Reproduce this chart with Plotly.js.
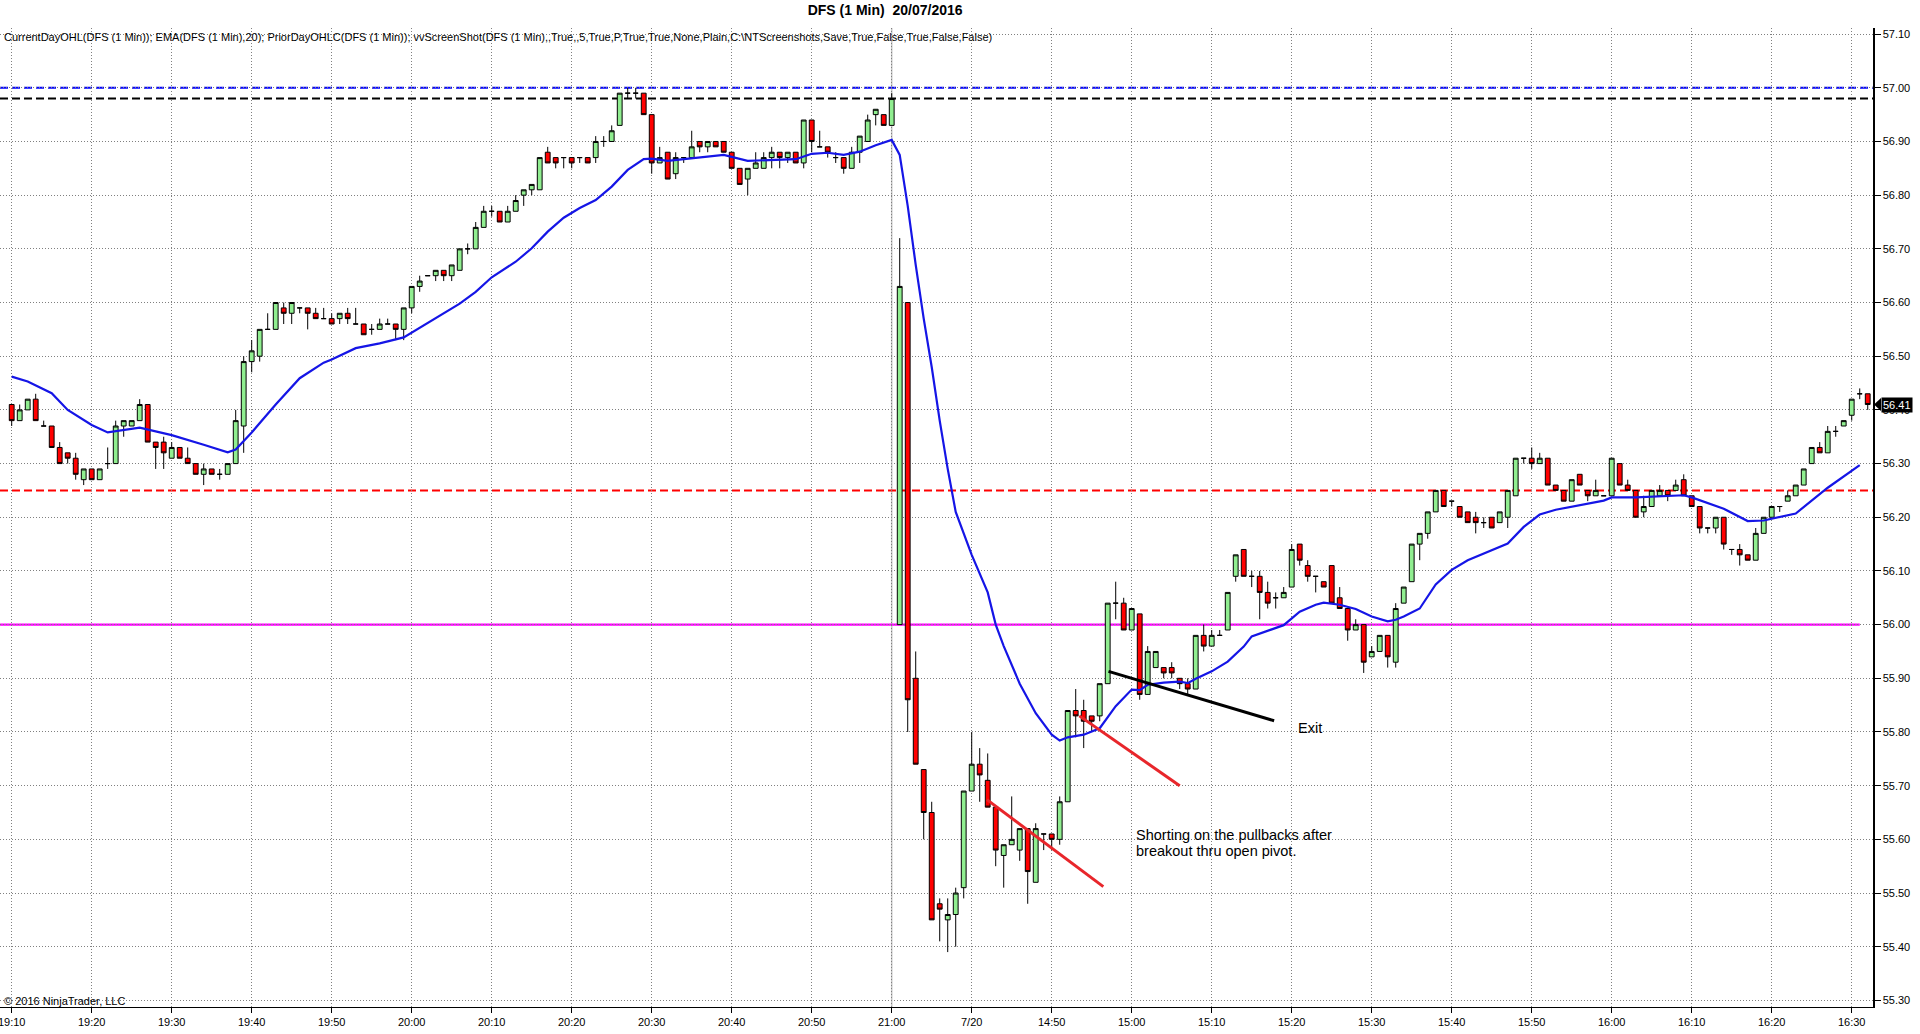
<!DOCTYPE html>
<html><head><meta charset="utf-8">
<script src="https://cdn.plot.ly/plotly-3.0.1.min.js"></script>
<style>html,body{margin:0;padding:0;background:#fff;overflow:hidden}#chart{width:1920px;height:1034px}</style>
</head><body><div id="chart"></div>
<script>
// ---- bar times (two sessions: 19/07 19:10-21:00, 20/07 14:31-16:32) ----
const times = [
"19:10","19:11","19:12","19:13","19:14","19:15","19:16","19:17","19:18","19:19",
"19:20","19:21","19:22","19:23","19:24","19:25","19:26","19:27","19:28","19:29",
"19:30","19:31","19:32","19:33","19:34","19:35","19:36","19:37","19:38","19:39",
"19:40","19:41","19:42","19:43","19:44","19:45","19:46","19:47","19:48","19:49",
"19:50","19:51","19:52","19:53","19:54","19:55","19:56","19:57","19:58","19:59",
"20:00","20:01","20:02","20:03","20:04","20:05","20:06","20:07","20:08","20:09",
"20:10","20:11","20:12","20:13","20:14","20:15","20:16","20:17","20:18","20:19",
"20:20","20:21","20:22","20:23","20:24","20:25","20:26","20:27","20:28","20:29",
"20:30","20:31","20:32","20:33","20:34","20:35","20:36","20:37","20:38","20:39",
"20:40","20:41","20:42","20:43","20:44","20:45","20:46","20:47","20:48","20:49",
"20:50","20:51","20:52","20:53","20:54","20:55","20:56","20:57","20:58","20:59",
"21:00",
"14:31","14:32","14:33","14:34","14:35","14:36","14:37","14:38","14:39",
"14:40","14:41","14:42","14:43","14:44","14:45","14:46","14:47","14:48","14:49",
"14:50","14:51","14:52","14:53","14:54","14:55","14:56","14:57","14:58","14:59",
"15:00","15:01","15:02","15:03","15:04","15:05","15:06","15:07","15:08","15:09",
"15:10","15:11","15:12","15:13","15:14","15:15","15:16","15:17","15:18","15:19",
"15:20","15:21","15:22","15:23","15:24","15:25","15:26","15:27","15:28","15:29",
"15:30","15:31","15:32","15:33","15:34","15:35","15:36","15:37","15:38","15:39",
"15:40","15:41","15:42","15:43","15:44","15:45","15:46","15:47","15:48","15:49",
"15:50","15:51","15:52","15:53","15:54","15:55","15:56","15:57","15:58","15:59",
"16:00","16:01","16:02","16:03","16:04","16:05","16:06","16:07","16:08","16:09",
"16:10","16:11","16:12","16:13","16:14","16:15","16:16","16:17","16:18","16:19",
"16:20","16:21","16:22","16:23","16:24","16:25","16:26","16:27","16:28","16:29",
"16:30","16:31","16:32"];

const open = [
56.41,56.38,56.40,56.42,56.37,56.37,56.33,56.32,56.31,56.27,
56.29,56.27,56.30,56.30,56.37,56.37,56.38,56.41,56.34,56.34,
56.31,56.33,56.31,56.30,56.28,56.29,56.28,56.28,56.30,56.37,
56.49,56.50,56.55,56.55,56.59,56.58,56.59,56.59,56.58,56.57,
56.57,56.57,56.58,56.56,56.56,56.55,56.55,56.56,56.56,56.55,
56.59,56.63,56.65,56.65,56.66,56.65,56.66,56.70,56.70,56.74,
56.77,56.77,56.75,56.77,56.80,56.81,56.81,56.88,56.87,56.87,
56.87,56.87,56.87,56.87,56.90,56.90,56.93,56.99,56.99,56.99,
56.95,56.86,56.88,56.84,56.87,56.87,56.90,56.89,56.90,56.90,
56.88,56.85,56.83,56.85,56.85,56.87,56.88,56.87,56.88,56.86,
56.94,56.89,56.89,56.87,56.87,56.85,56.88,56.90,56.95,56.95,
56.93,
56.00,56.60,55.90,55.73,55.65,55.48,55.45,55.46,55.51,
55.69,55.74,55.71,55.66,55.57,55.59,55.58,55.62,55.52,55.61,
55.61,55.60,55.67,55.84,55.84,55.83,55.83,55.89,56.04,56.04,
55.99,56.02,55.87,55.92,55.92,55.92,55.90,55.89,55.88,55.98,
55.96,55.98,55.99,56.09,56.14,56.09,56.09,56.06,56.05,56.05,
56.07,56.15,56.11,56.09,56.08,56.11,56.05,56.03,55.99,56.00,
55.94,55.95,55.98,55.93,56.04,56.08,56.15,56.17,56.21,56.25,
56.23,56.22,56.21,56.20,56.19,56.20,56.19,56.20,56.24,56.31,
56.31,56.30,56.31,56.26,56.25,56.23,56.28,56.25,56.24,56.24,
56.24,56.30,56.26,56.25,56.21,56.22,56.24,56.25,56.25,56.27,
56.24,56.22,56.18,56.18,56.20,56.14,56.14,56.13,56.12,56.17,
56.20,56.22,56.23,56.24,56.26,56.30,56.33,56.32,56.36,56.37,
56.39,56.43,56.43];

const high = [
56.41,56.41,56.42,56.43,56.38,56.37,56.34,56.32,56.32,56.29,
56.29,56.29,56.33,56.38,56.38,56.38,56.42,56.41,56.34,56.35,
56.34,56.33,56.33,56.30,56.30,56.29,56.29,56.30,56.40,56.50,
56.53,56.55,56.58,56.60,56.60,56.60,56.59,56.59,56.59,56.59,
56.58,56.58,56.59,56.59,56.56,56.56,56.57,56.57,56.56,56.59,
56.63,56.65,56.65,56.66,56.66,56.67,56.70,56.71,56.75,56.78,
56.78,56.77,56.78,56.80,56.81,56.82,56.87,56.89,56.87,56.87,
56.87,56.87,56.87,56.91,56.91,56.93,56.99,57.00,57.00,56.99,
56.95,56.89,56.88,56.88,56.87,56.92,56.90,56.90,56.90,56.90,
56.88,56.85,56.85,56.88,56.88,56.89,56.88,56.88,56.88,56.94,
56.94,56.92,56.89,56.88,56.87,56.89,56.91,56.95,56.96,56.95,
56.99,
56.72,56.60,55.95,55.73,55.67,55.49,55.49,55.51,55.69,
55.80,55.77,55.76,55.66,55.59,55.68,55.62,55.62,55.63,55.61,
55.61,55.68,55.84,55.88,55.86,55.83,55.89,56.04,56.08,56.05,
56.03,56.02,55.96,55.95,55.92,55.93,55.90,55.90,55.98,56.00,
55.99,55.99,56.06,56.13,56.14,56.10,56.10,56.08,56.06,56.07,
56.15,56.15,56.12,56.09,56.08,56.11,56.07,56.03,56.01,56.00,
55.96,55.98,55.98,56.04,56.07,56.15,56.17,56.21,56.25,56.25,
56.23,56.22,56.21,56.21,56.20,56.20,56.21,56.25,56.31,56.31,
56.33,56.32,56.31,56.26,56.25,56.27,56.28,56.25,56.27,56.24,
56.31,56.30,56.27,56.25,56.24,56.25,56.26,56.25,56.27,56.28,
56.24,56.22,56.18,56.20,56.20,56.14,56.15,56.13,56.18,56.20,
56.22,56.22,56.25,56.26,56.29,56.33,56.34,56.37,56.37,56.38,
56.42,56.44,56.43];

const low = [
56.37,56.38,56.40,56.38,56.37,56.33,56.30,56.30,56.27,56.26,
56.27,56.27,56.29,56.30,56.35,56.37,56.38,56.34,56.29,56.29,
56.31,56.31,56.30,56.28,56.26,56.28,56.27,56.28,56.30,56.32,
56.47,56.49,56.55,56.55,56.56,56.56,56.58,56.55,56.57,56.57,
56.56,56.56,56.56,56.56,56.54,56.54,56.55,56.56,56.53,56.53,
56.58,56.62,56.65,56.64,56.64,56.64,56.66,56.69,56.70,56.74,
56.76,56.75,56.75,56.77,56.78,56.80,56.81,56.86,56.85,56.85,
56.85,56.86,56.86,56.86,56.89,56.90,56.93,56.98,56.98,56.95,
56.84,56.86,56.83,56.83,56.86,56.87,56.88,56.88,56.89,56.88,
56.85,56.82,56.80,56.85,56.85,56.85,56.85,56.86,56.86,56.85,
56.88,56.89,56.87,56.86,56.84,56.85,56.86,56.90,56.93,56.93,
56.93,
56.00,55.80,55.74,55.60,55.45,55.41,55.39,55.40,55.49,
55.69,55.67,55.66,55.55,55.51,55.59,55.56,55.48,55.52,55.58,
55.58,55.59,55.67,55.79,55.77,55.80,55.82,55.89,56.01,55.99,
55.99,55.86,55.87,55.92,55.90,55.90,55.88,55.87,55.88,55.95,
55.96,55.98,55.99,56.08,56.09,56.07,56.01,56.03,56.03,56.05,
56.07,56.11,56.08,56.06,56.07,56.04,56.03,55.97,55.99,55.91,
55.94,55.95,55.92,55.92,56.04,56.08,56.12,56.16,56.21,56.22,
56.22,56.20,56.19,56.17,56.18,56.18,56.19,56.18,56.24,56.30,
56.29,56.30,56.26,56.25,56.23,56.23,56.26,56.23,56.24,56.24,
56.24,56.26,56.25,56.20,56.20,56.22,56.24,56.23,56.25,56.24,
56.22,56.17,56.17,56.17,56.14,56.13,56.11,56.12,56.12,56.17,
56.20,56.21,56.23,56.24,56.26,56.30,56.32,56.32,56.35,56.37,
56.38,56.42,56.40];

const close = [
56.38,56.40,56.42,56.38,56.37,56.33,56.30,56.31,56.28,56.29,
56.27,56.29,56.30,56.37,56.38,56.38,56.41,56.34,56.33,56.32,
56.33,56.31,56.30,56.28,56.29,56.28,56.28,56.30,56.38,56.49,
56.51,56.55,56.55,56.60,56.58,56.60,56.59,56.58,56.57,56.57,
56.56,56.58,56.57,56.56,56.54,56.55,56.56,56.56,56.55,56.59,
56.63,56.64,56.65,56.66,56.65,56.67,56.70,56.70,56.74,56.77,
56.77,56.75,56.77,56.79,56.81,56.82,56.87,56.86,56.86,56.87,
56.86,56.87,56.86,56.90,56.90,56.92,56.99,56.99,56.99,56.95,
56.86,56.87,56.83,56.87,56.87,56.89,56.89,56.90,56.89,56.88,
56.85,56.82,56.85,56.86,56.87,56.88,56.87,56.88,56.86,56.94,
56.90,56.89,56.88,56.87,56.85,56.88,56.91,56.94,56.96,56.93,
56.98,
56.63,55.86,55.74,55.65,55.45,55.47,55.46,55.50,55.69,
55.74,55.72,55.66,55.58,55.59,55.60,55.62,55.54,55.62,55.61,
55.60,55.67,55.84,55.83,55.82,55.82,55.89,56.04,56.04,55.99,
56.03,55.87,55.95,55.95,55.91,55.91,55.89,55.88,55.98,55.96,
55.98,55.98,56.06,56.13,56.09,56.09,56.06,56.04,56.05,56.06,
56.14,56.12,56.09,56.09,56.07,56.04,56.03,55.99,56.00,55.93,
55.95,55.98,55.94,56.03,56.07,56.15,56.17,56.21,56.25,56.22,
56.23,56.20,56.19,56.19,56.19,56.18,56.21,56.25,56.31,56.31,
56.30,56.31,56.26,56.25,56.23,56.27,56.26,56.24,56.25,56.24,
56.31,56.26,56.25,56.20,56.22,56.25,56.25,56.24,56.26,56.24,
56.22,56.18,56.18,56.20,56.15,56.14,56.13,56.12,56.17,56.20,
56.22,56.22,56.24,56.26,56.29,56.33,56.32,56.36,56.36,56.38,
56.42,56.43,56.41];

// ---- EMA(20) ----
const emaTimes = [
"19:10","19:12","19:15","19:17","19:20","19:22","19:26","19:30","19:34","19:37",
"19:38","19:40","19:43","19:46","19:49","19:50","19:53","19:56","19:59","20:03",
"20:06","20:08","20:10","20:13","20:15","20:17","20:19","20:21","20:23","20:25",
"20:27","20:29","20:30","20:32","20:35","20:39","20:42","20:45","20:48","20:50",
"20:52","20:54","20:56","20:58","21:00",
"14:31","14:32","14:33","14:34","14:35","14:36","14:37","14:38","14:40","14:42",
"14:43","14:44","14:46","14:48","14:50","14:51","14:52","14:54",
"14:56","14:58","15:00","15:01","15:02","15:04","15:06","15:07","15:08","15:10",
"15:12","15:14","15:15","15:17","15:19","15:21","15:23","15:24","15:26","15:28",
"15:30","15:32","15:33","15:34",
"15:36","15:38","15:40","15:42","15:44","15:47","15:49","15:51","15:53","15:59",
"16:00","16:03","16:09","16:10","16:14","16:17","16:19","16:23","16:27","16:31"];
const emaValues = [
56.462,56.453,56.431,56.400,56.372,56.358,56.367,56.353,56.335,56.321,
56.326,56.358,56.410,56.459,56.488,56.494,56.515,56.524,56.535,56.571,
56.598,56.620,56.647,56.676,56.701,56.732,56.758,56.776,56.791,56.816,
56.847,56.867,56.868,56.864,56.869,56.875,56.864,56.866,56.867,56.877,
56.879,56.875,56.881,56.893,56.903,
56.875,56.78,56.67,56.57,56.48,56.38,56.29,56.21,56.13,56.06,
56.00,55.96,55.89,55.835,55.795,55.784,55.79,55.795,
55.807,55.848,55.879,55.878,55.888,55.892,55.894,55.891,55.899,55.913,
55.931,55.959,55.978,55.988,55.999,56.024,56.037,56.041,56.037,56.029,
56.015,56.006,56.009,56.015,
56.03,56.075,56.102,56.12,56.133,56.151,56.182,56.205,56.214,56.231,
56.237,56.237,56.241,56.237,56.216,56.193,56.194,56.207,56.255,56.297];

// ---- pivot levels ----
const priorDayHigh = 57.00;
const priorDayClose = 56.98;
const priorDayLow = 56.25;
const currentDayOpen = 56.00;
const openLineEnd = "16:31";
const sessionBreak = "21:00";

// ---- tick labels ----
const xTickVals = ["19:10","19:20","19:30","19:40","19:50","20:00","20:10","20:20","20:30","20:40","20:50","21:00",
                   "14:40","14:50","15:00","15:10","15:20","15:30","15:40","15:50","16:00","16:10","16:20","16:30"];
const xTickText = ["19:10","19:20","19:30","19:40","19:50","20:00","20:10","20:20","20:30","20:40","20:50","21:00",
                   "7/20","14:50","15:00","15:10","15:20","15:30","15:40","15:50","16:00","16:10","16:20","16:30"];

const titleText = "DFS (1 Min)\u00a0 20/07/2016";
const indicatorText = "CurrentDayOHL(DFS (1 Min)); EMA(DFS (1 Min),20); PriorDayOHLC(DFS (1 Min)); vvScreenShot(DFS (1 Min),,True,,5,True,P,True,True,None,Plain,C:\\NTScreenshots,Save,True,False,True,False,False)";
const copyrightText = "\u00a9 2016 NinjaTrader, LLC";
const noteLines = ["Shorting on the pullbacks after", "breakout thru open pivot."];
const exitText = "Exit";

// ---- drawing (hand-drawn trend lines, in bar-index / price units) ----
const drawnLines = [
  {x0:121.9, y0:55.674, x1:136.45, y1:55.512, color:'#e8262b'},
  {x0:133.45, y0:55.830, x1:146.0, y1:55.700, color:'#e8262b'},
  {x0:137.1, y0:55.913, x1:157.8, y1:55.821, color:'#000000'}
];

const FONT = '"Liberation Sans", Arial, sans-serif';
const xRange = [-1.4625, 232.66];
const yRange = [55.2877, 57.1114];
const lastPrice = close[close.length - 1];
const gridStyle = {showgrid:true, gridcolor:'#808080', gridwidth:1, griddash:'1px,2px'};

const traces = [
  {
    type:'candlestick', x:times, open:open, high:high, low:low, close:close,
    increasing:{line:{color:'#000', width:1}, fillcolor:'#90ee90'},
    decreasing:{line:{color:'#000', width:1}, fillcolor:'#ff0000'},
    whiskerwidth:0, hoverinfo:'skip', showlegend:false
  },
  {
    type:'scatter', mode:'lines', x:emaTimes, y:emaValues,
    line:{color:'#1515e6', width:2.2}, hoverinfo:'skip', showlegend:false
  }
];

const hLine = (y, color, dash) => ({
  type:'line', xref:'paper', yref:'y', x0:0, x1:1, y0:y, y1:y, layer:'below',
  line:{color:color, width:2, dash:dash}
});

const shapes = [
  {type:'line', xref:'x', yref:'paper', x0:times.indexOf(sessionBreak), x1:times.indexOf(sessionBreak), y0:0, y1:1,
   layer:'below', line:{color:'#c4c4c4', width:1.5}},
  hLine(priorDayHigh, '#0000ff', '8px,4px'),
  hLine(priorDayClose, '#000000', '8px,4px'),
  hLine(priorDayLow, '#ff0000', '8px,4px'),
  {type:'line', xref:'x', yref:'y', x0:xRange[0], x1:times.indexOf(openLineEnd), y0:currentDayOpen, y1:currentDayOpen,
   layer:'below', line:{color:'#ff00ff', width:2.2}},
  // price marker pointer
  {type:'path', xref:'paper', xsizemode:'pixel', xanchor:1, yref:'y', ysizemode:'pixel', yanchor:lastPrice,
   path:'M 1 0 L 8 6.5 L 8 -6.5 Z', fillcolor:'#000', line:{width:0}}
];
drawnLines.forEach(d => shapes.push({type:'line', xref:'x', yref:'y', x0:d.x0, y0:d.y0, x1:d.x1, y1:d.y1,
  layer:'above', line:{color:d.color, width:3}}));

const annotations = [
  {xref:'paper', yref:'paper', x:0, y:0.9905, xanchor:'left', yanchor:'middle', xshift:2, showarrow:false,
   text:indicatorText, font:{family:FONT, size:11, color:'#000'}},
  {xref:'paper', yref:'paper', x:0, y:0.0057, xanchor:'left', yanchor:'middle', xshift:2, showarrow:false,
   text:copyrightText, font:{family:FONT, size:11, color:'#000'}},
  {xref:'x', yref:'y', x:140.3, y:55.6086, xanchor:'left', yanchor:'middle', showarrow:false,
   text:noteLines[0], font:{family:FONT, size:14.5, color:'#000'}},
  {xref:'x', yref:'y', x:140.3, y:55.5775, xanchor:'left', yanchor:'middle', showarrow:false,
   text:noteLines[1], font:{family:FONT, size:14.5, color:'#000'}},
  {xref:'x', yref:'y', x:160.5, y:55.808, xanchor:'left', yanchor:'middle', showarrow:false,
   text:exitText, font:{family:FONT, size:14.5, color:'#000'}},
  {xref:'paper', yref:'y', x:1, y:lastPrice, xanchor:'left', yanchor:'middle', xshift:8, showarrow:false,
   text:lastPrice.toFixed(2), font:{family:FONT, size:11, color:'#fff'}, bgcolor:'#000', borderpad:1}
];

const layout = {
  width:1920, height:1034,
  margin:{l:0, r:47, t:28, b:27, pad:0},
  paper_bgcolor:'#ffffff', plot_bgcolor:'#ffffff',
  showlegend:false,
  boxgap:0.25, boxgroupgap:0.2,
  title:{text:'<b>' + titleText + '</b>', font:{family:FONT, size:14, color:'#000'},
         xref:'container', x:0.461, xanchor:'center', yref:'container', y:0.9903, yanchor:'middle'},
  xaxis:Object.assign({
    type:'category', categoryorder:'array', categoryarray:times, range:xRange,
    tickmode:'array', tickvals:xTickVals, ticktext:xTickText,
    showline:true, linecolor:'#000', linewidth:1,
    ticks:'outside', ticklen:5, tickcolor:'#000', tickwidth:1,
    tickfont:{family:FONT, size:11, color:'#000'},
    rangeslider:{visible:false}, zeroline:false, fixedrange:true
  }, gridStyle),
  yaxis:Object.assign({
    side:'right', range:yRange, tickmode:'linear', tick0:55.3, dtick:0.1, tickformat:'.2f',
    showline:true, linecolor:'#000', linewidth:1.5,
    ticks:'outside', ticklen:6, tickcolor:'#000', tickwidth:1,
    tickfont:{family:FONT, size:11, color:'#000'},
    zeroline:false, fixedrange:true
  }, gridStyle),
  shapes:shapes,
  annotations:annotations
};

Plotly.newPlot('chart', traces, layout, {displayModeBar:false, staticPlot:true});
</script>
</body></html>
